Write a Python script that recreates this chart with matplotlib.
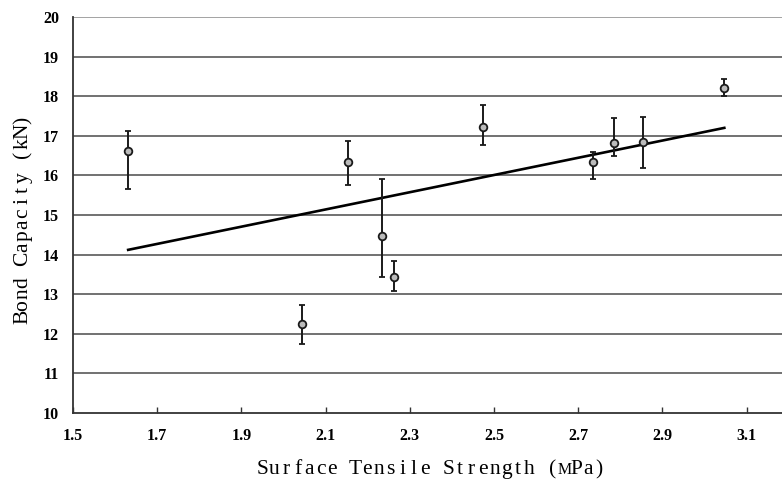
import matplotlib.pyplot as plt

# measured points (surface tensile strength, bond capacity) with error bar ends
x = [1.631, 2.044, 2.153, 2.234, 2.262, 2.473, 2.734, 2.784, 2.855, 3.046]
y = [16.62, 12.25, 16.34, 14.47, 13.44, 17.21, 16.35, 16.81, 16.84, 18.20]
y_hi = [17.12, 12.73, 16.87, 15.91, 13.85, 17.79, 16.58, 17.46, 17.47, 18.43]
y_lo = [15.66, 11.74, 15.76, 13.44, 13.09, 16.77, 15.92, 16.48, 16.19, 18.01]

# trend line end points
fit_x = [1.631, 3.047]
fit_y = [14.12, 17.20]

xticks = [1.5, 1.7, 1.9, 2.1, 2.3, 2.5, 2.7, 2.9, 3.1]
yticks = list(range(10, 21))

xlabel = "Surface Tensile Strength (MPa)"
ylabel = "Bond Capacity (kN)"

err = [[v - l for v, l in zip(y, y_lo)], [h - v for v, h in zip(y, y_hi)]]

W, H = 782, 483
fig = plt.figure(figsize=(W / 100, H / 100), dpi=100)
ax = fig.add_axes([73 / W, 70 / H, 709 / W, 396 / H])

for t in yticks[1:]:
    c = "#8a8a8a" if t == 20 else "#4a4a4a"
    ax.axhline(t, color=c, lw=1.1, zorder=1)

ax.plot(fit_x, fit_y, color="black", lw=1.9, zorder=2)
ax.errorbar(x, y, yerr=err, fmt="o", ms=5.5, mfc="#bbbbbb", mec="#1a1a1a",
            mew=1.3, ecolor="#1a1a1a", elinewidth=1.4, capsize=2.5,
            capthick=1.3, zorder=3)

ax.set_xlim(1.5, 3.184)
ax.set_ylim(10, 20)
ax.set_xticks(xticks)
ax.set_xticklabels([f"{t:.1f}" for t in xticks], fontfamily="Liberation Serif",
                   fontweight="bold", fontsize=11.5)
ax.set_yticks(yticks)
ax.set_yticklabels([str(t) for t in yticks], fontfamily="Liberation Serif",
                   fontweight="bold", fontsize=11.5)
ax.tick_params(axis="x", direction="in", length=4, width=1, pad=11, color="#333333")
ax.tick_params(axis="y", length=0, pad=10)

for s in ["top", "right"]:
    ax.spines[s].set_visible(False)
for s in ["left", "bottom"]:
    ax.spines[s].set_color("#333333")
    ax.spines[s].set_linewidth(1.3)

# axis titles in a fixed-pitch serif look: one glyph per cell
pitch = 11.6
narrow = {"M": 11.5}
for i, ch in enumerate(xlabel):
    fig.text((257 + (i + 0.5) * pitch) / W, 1 - 474 / H, ch, ha="center",
             va="baseline", fontfamily="Liberation Serif",
             fontsize=narrow.get(ch, 15.5))
for i, ch in enumerate(ylabel):
    fig.text(23 / W, 1 - (323 - (i + 0.5) * pitch) / H, ch, ha="center",
             va="center", rotation=90, fontfamily="Liberation Serif",
             fontsize=narrow.get(ch, 15.5))

fig.savefig("out.png", dpi=100)
